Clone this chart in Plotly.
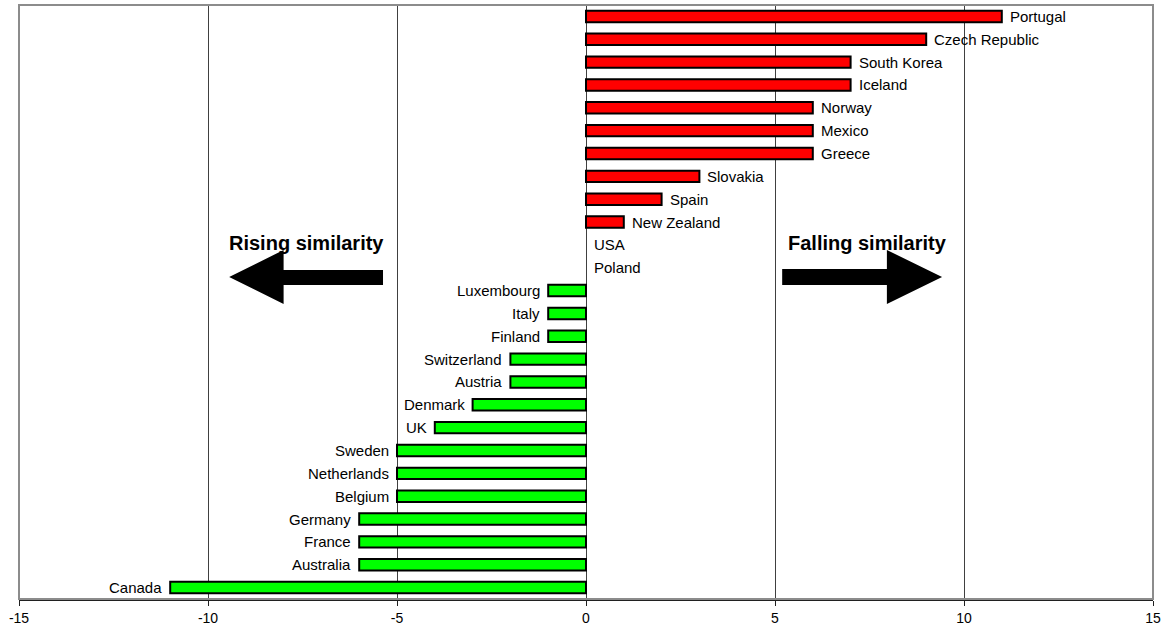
import plotly.graph_objects as go

# Change in similarity ranking by country
countries = ["Portugal", "Czech Republic", "South Korea", "Iceland", "Norway", "Mexico",
             "Greece", "Slovakia", "Spain", "New Zealand", "USA", "Poland", "Luxembourg",
             "Italy", "Finland", "Switzerland", "Austria", "Denmark", "UK", "Sweden",
             "Netherlands", "Belgium", "Germany", "France", "Australia", "Canada"]
values = [11, 9, 7, 7, 6, 6, 6, 3, 2, 1, 0, 0, -1, -1, -1, -2, -2, -3, -4, -5,
          -5, -5, -6, -6, -6, -11]
x_ticks = [-15, -10, -5, 0, 5, 10, 15]

colors = ["#FF0000" if v > 0 else "#00FF00" for v in values]
outline = [0 if v == 0 else 2 for v in values]

fig = go.Figure()
fig.add_trace(go.Bar(
    x=values, y=countries, orientation="h",
    marker=dict(color=colors, line=dict(color="black", width=outline)),
    width=0.5, hoverinfo="x+y", showlegend=False,
))

font = "Liberation Sans, Arial, sans-serif"
for c, v in zip(countries, values):
    fig.add_annotation(
        x=v, y=c, xref="x", yref="y", text=c, showarrow=False,
        xanchor="left" if v >= 0 else "right",
        xshift=6 if v >= 0 else -6,
        font=dict(family=font, size=15, color="black"),
    )

# Direction arrows (x in data units, y in paper fraction)
def py(p):
    return (599 - p) / 594

left_arrow = (f"M -9.44,{py(277)} L -8.0,{py(250)} L -8.0,{py(270)} L -5.37,{py(270)} "
              f"L -5.37,{py(285)} L -8.0,{py(285)} L -8.0,{py(304)} Z")
right_arrow = (f"M 9.42,{py(277)} L 7.96,{py(250)} L 7.96,{py(269)} L 5.19,{py(269)} "
               f"L 5.19,{py(285)} L 7.96,{py(285)} L 7.96,{py(304)} Z")
for path in (left_arrow, right_arrow):
    fig.add_shape(type="path", path=path, xref="x", yref="paper",
                  fillcolor="black", line=dict(color="black", width=0))

fig.add_annotation(x=-9.5, y=py(243), xref="x", yref="paper", text="<b>Rising similarity</b>",
                   showarrow=False, xanchor="left", yanchor="middle",
                   font=dict(family=font, size=20, color="black"))
fig.add_annotation(x=5.3, y=py(243), xref="x", yref="paper", text="<b>Falling similarity</b>",
                   showarrow=False, xanchor="left", yanchor="middle",
                   font=dict(family=font, size=20, color="black"))

# Plot frame
fig.add_shape(type="rect", xref="paper", yref="paper", x0=0, x1=1, y0=0, y1=1,
              line=dict(color="#8C8C8C", width=2), layer="above")

fig.update_layout(
    width=1170, height=634,
    margin=dict(l=19, r=17, t=5, b=35),
    paper_bgcolor="white", plot_bgcolor="white",
    bargap=0.5,
    xaxis=dict(range=[-15, 15], tickvals=x_ticks, ticktext=[str(t) for t in x_ticks],
               showgrid=True, gridcolor="#404040", gridwidth=1,
               zeroline=True, zerolinecolor="#404040", zerolinewidth=1,
               showline=True, linecolor="#202020", linewidth=2,
               ticks="outside", ticklen=5, tickcolor="#202020",
               tickfont=dict(family=font, size=14, color="black")),
    yaxis=dict(categoryorder="array", categoryarray=countries, autorange="reversed",
               showticklabels=False, showgrid=False, zeroline=False, ticks=""),
)

fig.write_html("out.html")
